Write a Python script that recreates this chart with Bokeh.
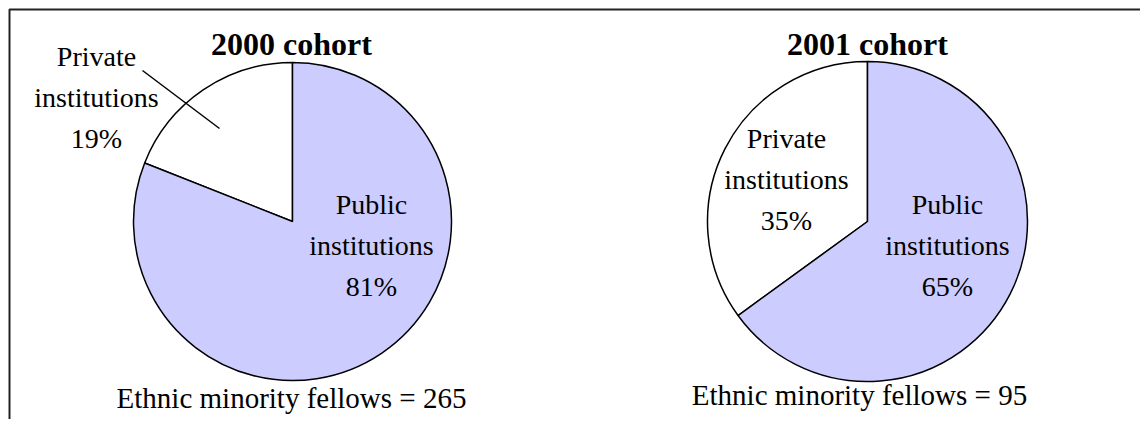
import math
from bokeh.plotting import figure
from bokeh.models import Range1d, ColumnDataSource
from bokeh.core.properties import value
from bokeh.embed import file_html
from bokeh.resources import INLINE

# ---- data ----
cohorts = ["2000 cohort", "2001 cohort"]
categories = ["Private institutions", "Public institutions"]
private_share = [19, 35]
public_share = [81, 65]
fellows = [265, 95]

W, H = 1140, 419
FONT = value("'Liberation Serif', 'Times New Roman', serif")
PUBLIC_COLOR = "#CCCCFF"
PRIVATE_COLOR = "#FFFFFF"
TXT_SHIFT = 9  # compensate baseline placement

p = figure(width=W, height=H, output_backend="svg", toolbar_location=None,
           x_range=Range1d(0, W), y_range=Range1d(0, H), min_border=0,
           outline_line_color=None)
p.axis.visible = False
p.grid.visible = False
p.background_fill_color = "white"
p.border_fill_color = "white"

def px(X):
    return X

def py(Y):
    return H - Y

def ty_(Y):
    return H - (Y - TXT_SHIFT)

# layout (picture pixel coordinates)
centers = [(292, 221), (867, 221)]
radii = [159, 160]
title_pos = [(291, 52), (867, 52)]
foot_pos = [(291, 406), (859, 403)]
private_lbl = [(96, [65, 106, 147]), (786, [147, 188, 229])]
public_lbl = [(371, [213, 254, 295]), (947, [213, 254, 295])]

# wedges
xs, ys, rs, sa, ea, cols = [], [], [], [], [], []
for i in range(len(cohorts)):
    cx, cy = centers[i]
    a0 = math.pi / 2
    a1 = a0 + private_share[i] / 100 * 2 * math.pi
    a2 = a0 + 2 * math.pi
    for s, e, c in [(a0, a1, PRIVATE_COLOR), (a1, a2, PUBLIC_COLOR)]:
        xs.append(px(cx)); ys.append(py(cy)); rs.append(radii[i])
        sa.append(s); ea.append(e); cols.append(c)
src = ColumnDataSource(dict(x=xs, y=ys, r=rs, s=sa, e=ea, c=cols))
p.wedge(x="x", y="y", radius="r", start_angle="s", end_angle="e",
        fill_color="c", line_color="black", line_width=1.5, source=src,
        direction="anticlock")

# leader line for the small 2000 private slice
p.line(x=[px(142), px(219)], y=[py(70), py(128)], line_color="black", line_width=1.5)

# texts
tx, tyy, tt = [], [], []
for i in range(len(cohorts)):
    for (lx, lys), name, share in [(private_lbl[i], categories[0], private_share[i]),
                                   (public_lbl[i], categories[1], public_share[i])]:
        words = name.split(" ")
        lines = [words[0], " ".join(words[1:]), f"{share}%"]
        for ln, yy in zip(lines, lys):
            tx.append(px(lx)); tyy.append(ty_(yy)); tt.append(ln)
p.text(x=tx, y=tyy, text=tt, text_font=FONT, text_font_size="28px",
       text_align="center", text_baseline="alphabetic", text_color="black")

p.text(x=[px(t[0]) for t in title_pos], y=[ty_(t[1]) for t in title_pos], text=cohorts,
       text_font=FONT, text_font_size="32px", text_font_style="bold",
       text_align="center", text_baseline="alphabetic", text_color="black")

p.text(x=[px(t[0]) for t in foot_pos], y=[ty_(t[1]) for t in foot_pos],
       text=[f"Ethnic minority fellows = {n}" for n in fellows],
       text_font=FONT, text_font_size="29px",
       text_align="center", text_baseline="alphabetic", text_color="black")

# frame (only left and top edges visible in reference)
p.line(x=[px(9), px(9), W + 10], y=[-10, py(9), py(9)], line_color="#222222", line_width=2)

open("out.html", "w").write(file_html(p, INLINE))
